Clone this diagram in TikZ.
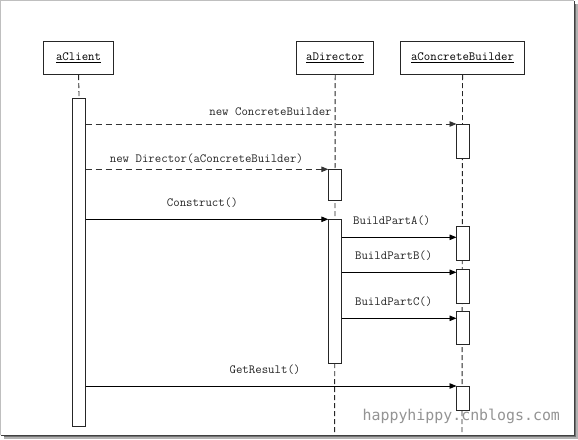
\documentclass[tikz,border=0pt]{standalone}
\usepackage{fontspec}
\setmonofont{Latin Modern Mono}
\newfontfamily\wmfont{DejaVu Sans Mono}
\usetikzlibrary{arrows.meta,calc}
\begin{document}
\begin{tikzpicture}[x=1pt,y=-1pt,
  lbl/.style={font=\ttfamily\fontsize{12.5}{14}\selectfont, inner sep=0pt, text=black!85},
  objbox/.style={draw=black!85, line width=1.1pt, fill=white, inner sep=0pt, anchor=north west,
     font=\ttfamily\fontsize{12.5}{14}\selectfont},
  actbox/.style={draw=black!85, line width=0.9pt, fill=white, inner sep=0pt, anchor=north west},
  lifeline/.style={draw=black!85, line width=0.9pt, dash pattern=on 5pt off 3pt},
  msg/.style={draw=black, line width=0.9pt, -{Triangle[length=7pt,width=5.5pt]}},
  dmsg/.style={msg, dash pattern=on 6.5pt off 3.5pt, draw=black!80}
]
\useasboundingbox (0,0) rectangle (578,439);
% frame with shadow
\fill[black!30] (4,4) rectangle (578,439);
\fill[black!55] (4,4) rectangle (576,437);
\fill[white] (0.5,0.5) rectangle (574,435);
\draw[black!25, line width=0.8pt] (574,0.5) -- (0.5,0.5) -- (0.5,435);
\draw[black!75, line width=1pt] (0.5,435) -- (574,435) -- (574,0.5);

% objects
\node[objbox, minimum width=70.6pt, minimum height=33.5pt] (cl) at (42.7,40.5) {\underline{aClient}};
\node[objbox, minimum width=77.3pt, minimum height=33.5pt] (di) at (296,40.5) {\underline{aDirector}};
\node[objbox, minimum width=124pt, minimum height=33.5pt] (cb) at (400,40.5) {\underline{aConcreteBuilder}};

% lifeline end points
\coordinate (diEnd) at (334.6,433);
\coordinate (cbEnd) at (462,433);

% activation boxes
\node[actbox, minimum width=12.3pt, minimum height=327.7pt] (ca) at (72.5,98.3) {};
\node[actbox, minimum width=11.8pt, minimum height=33.3pt] (cb1) at (456.5,124) {};
\node[actbox, minimum width=12.4pt, minimum height=30.7pt] (da1) at (328.3,169.3) {};
\node[actbox, minimum width=12.4pt, minimum height=143.4pt] (da2) at (328.3,219.3) {};
\node[actbox, minimum width=11.8pt, minimum height=33.3pt] (cbA) at (456.5,226.7) {};
\node[actbox, minimum width=11.8pt, minimum height=33.3pt] (cbB) at (456.5,269) {};
\node[actbox, minimum width=11.8pt, minimum height=32.3pt] (cbC) at (456.5,311) {};
\node[actbox, minimum width=11.8pt, minimum height=24pt] (cbD) at (456.5,386) {};

% lifelines (behind activations)
\begin{scope}[on background layer/.style={}]
\end{scope}
\path[lifeline] (cl.south) -- (ca.north);
\path[lifeline] (di.south) -- (diEnd);
\path[lifeline] (cb.south) -- (cbEnd);
% redraw activations on top
\foreach \n in {ca,cb1,da1,da2,cbA,cbB,cbC,cbD}{
  \draw[black!85, line width=0.9pt, fill=white] (\n.north west) rectangle (\n.south east);
}

% message anchor points
\coordinate (yA) at (0,237.3);
\coordinate (yB) at (0,272.3);
\coordinate (yC) at (0,318.3);

% messages
\draw[dmsg] (ca.east |- cb1.north) -- (cb1.north west);
\draw[dmsg] (ca.east |- da1.north) -- (da1.north west);
\draw[msg] (ca.east |- da2.north) -- (da2.north west);
\draw[msg] (da2.east |- yA) -- (cbA.west |- yA);
\draw[msg] (da2.east |- yB) -- (cbB.west |- yB);
\draw[msg] (da2.east |- yC) -- (cbC.west |- yC);
\draw[msg] (ca.east |- cbD.north) -- (cbD.north west);

% labels
\node[lbl] (l1) at (270.5,112) {new ConcreteBuilder};
\node[lbl] (l2) at (206.4,158.7) {new Director(aConcreteBuilder)};
\node[lbl] (l3) at (202.3,202.7) {Construct()};
\node[lbl] (l4) at (391.8,220.7) {BuildPartA()};
\node[lbl] (l5) at (393.7,256) {BuildPartB()};
\node[lbl] (l6) at (393.7,301.7) {BuildPartC()};
\node[lbl] (l7) at (265,370) {GetResult()};

% watermark
\node[inner sep=0pt, text=black!42, font=\wmfont\fontsize{14.9}{16}\selectfont] (wm) at (461.3,416.5) {happyhippy.cnblogs.com};
\end{tikzpicture}
\end{document}
